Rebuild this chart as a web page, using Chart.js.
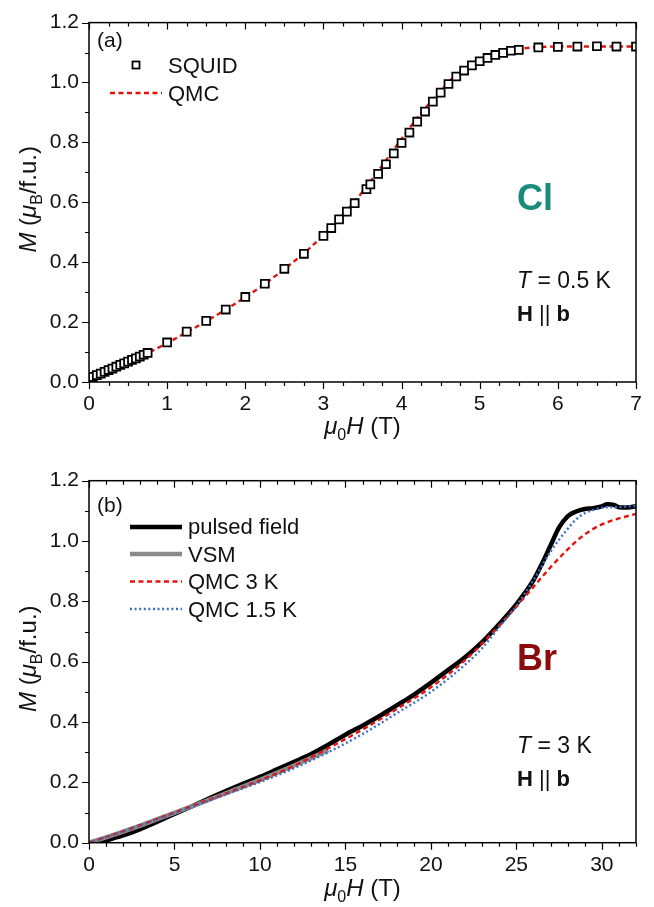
<!DOCTYPE html>
<html>
<head>
<meta charset="utf-8">
<script src="https://cdn.jsdelivr.net/npm/chart.js@4.4.1/dist/chart.umd.min.js"></script>
<style>
  body { margin: 0; background: #fff; }
  canvas { position: absolute; left: 0; }
  #chartA { top: 0; }
  #chartB { top: 450px; }
</style>
</head>
<body>
<canvas id="chartA" width="654" height="450"></canvas>
<canvas id="chartB" width="654" height="457"></canvas>
<script>
const FONT = "'Liberation Sans', Arial, Helvetica, sans-serif";

// ---- panel (a): Cl, T = 0.5 K ----
const squidField = [0.02, 0.05, 0.1, 0.15, 0.2, 0.25, 0.3, 0.35, 0.4, 0.45, 0.5, 0.55, 0.6, 0.65, 0.7, 0.75,
  1, 1.25, 1.5, 1.75, 2, 2.25, 2.5, 2.75, 3, 3.1, 3.2, 3.3, 3.4, 3.55, 3.6, 3.7, 3.8, 3.9,
  4, 4.1, 4.2, 4.3, 4.4, 4.5, 4.6, 4.7, 4.8, 4.9, 5, 5.1, 5.2, 5.3, 5.4, 5.5, 5.75, 6, 6.25, 6.5, 6.75, 7];
const squidM = [0.012, 0.017, 0.023, 0.028, 0.034, 0.040, 0.045, 0.051, 0.057, 0.062, 0.068, 0.074, 0.079, 0.085, 0.091, 0.097,
  0.132, 0.168, 0.204, 0.242, 0.284, 0.328, 0.378, 0.428, 0.488, 0.514, 0.543, 0.569, 0.597, 0.644, 0.660, 0.695, 0.727, 0.763,
  0.798, 0.833, 0.869, 0.903, 0.936, 0.966, 0.995, 1.020, 1.040, 1.057, 1.071, 1.082, 1.092, 1.099, 1.106, 1.109, 1.117, 1.119, 1.120, 1.121, 1.120, 1.120];

const qmcClField = [0, 0.25, 0.5, 0.75, 1, 1.25, 1.5, 1.75, 2, 2.25, 2.5, 2.75, 3, 3.25, 3.5, 3.75, 4, 4.25, 4.5, 4.75, 5, 5.25, 5.5, 5.75, 6, 6.5, 7];
const qmcClM = [0, 0.031, 0.063, 0.096, 0.130, 0.166, 0.203, 0.242, 0.283, 0.328, 0.377, 0.430, 0.490, 0.558, 0.635, 0.722, 0.812, 0.898, 0.972, 1.038, 1.078, 1.100, 1.112, 1.118, 1.120, 1.120, 1.120];

const xTicksA = [0, 1, 2, 3, 4, 5, 6, 7];
const yTicks = [0, 0.2, 0.4, 0.6, 0.8, 1.0, 1.2];

// ---- panel (b): Br, T = 3 K ----
const pulsedField = [0.5, 1, 2, 3, 4, 5, 6, 7, 8, 9, 10, 11, 12, 13, 14, 15, 16, 17, 18, 19, 20, 21, 22, 23, 24, 25,
  25.5, 26, 26.5, 27, 27.5, 28, 28.5, 29, 29.5, 30, 30.3, 30.7, 31, 31.5, 32];
const pulsedM = [0, 0.008, 0.024, 0.045, 0.070, 0.095, 0.120, 0.146, 0.171, 0.195, 0.218, 0.243, 0.268, 0.294, 0.325, 0.358, 0.388, 0.420, 0.455, 0.490, 0.530, 0.572, 0.615, 0.665, 0.725, 0.790,
  0.828, 0.870, 0.925, 0.985, 1.045, 1.082, 1.098, 1.106, 1.109, 1.115, 1.122, 1.120, 1.112, 1.111, 1.115];

const vsmField = [0, 1, 2, 3, 4, 5, 6, 7, 8, 9, 10, 11, 12, 13, 14];
const vsmM = [0, 0.018, 0.037, 0.057, 0.078, 0.099, 0.120, 0.142, 0.164, 0.186, 0.208, 0.232, 0.256, 0.281, 0.307];

const qmc3Field = [0, 2, 5, 8, 10, 12, 14, 16, 18, 20, 22, 24, 25, 26, 27, 28, 29, 30, 31, 32];
const qmc3M = [0, 0.038, 0.100, 0.163, 0.206, 0.255, 0.313, 0.375, 0.443, 0.515, 0.605, 0.720, 0.783, 0.848, 0.913, 0.972, 1.022, 1.055, 1.075, 1.090];

const qmc15Field = [0, 2, 5, 8, 10, 12, 14, 16, 18, 20, 22, 23, 24, 25, 26, 27, 28, 28.5, 29, 29.5, 30, 31, 32];
const qmc15M = [0, 0.038, 0.098, 0.160, 0.201, 0.247, 0.300, 0.360, 0.429, 0.500, 0.590, 0.645, 0.715, 0.785, 0.870, 0.965, 1.040, 1.072, 1.092, 1.103, 1.110, 1.113, 1.116];

const xTicksB = [0, 5, 10, 15, 20, 25, 30];

function pts(xs, ys) {
  return xs.map((x, i) => ({ x: x, y: ys[i] }));
}

function fontOf(style, size) {
  return style + " " + size + "px " + FONT;
}

// parts: [text, style, scale, dy]
function rich(ctx, parts, x, y, size, align) {
  let w = 0;
  parts.forEach(p => {
    ctx.font = fontOf(p[1], Math.round(size * (p[2] || 1)));
    w += ctx.measureText(p[0]).width;
  });
  let cx = align === "left" ? x : x - w / 2;
  ctx.textAlign = "left";
  ctx.textBaseline = "alphabetic";
  parts.forEach(p => {
    ctx.font = fontOf(p[1], Math.round(size * (p[2] || 1)));
    ctx.fillText(p[0], cx, y + (p[3] || 0));
    cx += ctx.measureText(p[0]).width;
  });
}

// box frame + major/minor ticks (left & bottom outward, top inward)
const frame = {
  id: "frame",
  afterDraw(chart, args, opts) {
    const ctx = chart.ctx, a = chart.chartArea;
    const xs = chart.scales.x, ys = chart.scales.y;
    ctx.save();
    ctx.strokeStyle = "#000";
    ctx.lineWidth = 1.5;
    ctx.strokeRect(a.left, a.top, a.right - a.left, a.bottom - a.top);
    ctx.lineWidth = 1.2;
    ctx.beginPath();
    const nx = Math.round((xs.max - xs.min) / opts.xMinor);
    for (let i = 0; i <= nx; i++) {
      const v = xs.min + i * opts.xMinor;
      const r = v / opts.xMajor;
      const len = Math.abs(r - Math.round(r)) < 1e-6 ? 7 : 4;
      const p = Math.round(xs.getPixelForValue(v)) + 0.5;
      ctx.moveTo(p, a.bottom); ctx.lineTo(p, a.bottom + len);
      ctx.moveTo(p, a.top); ctx.lineTo(p, a.top + len);
    }
    const ny = Math.round((ys.max - ys.min) / opts.yMinor);
    for (let i = 0; i <= ny; i++) {
      const v = ys.min + i * opts.yMinor;
      const r = v / opts.yMajor;
      const len = Math.abs(r - Math.round(r)) < 1e-6 ? 7 : 4;
      const p = Math.round(ys.getPixelForValue(v)) + 0.5;
      ctx.moveTo(a.left, p); ctx.lineTo(a.left - len, p);
    }
    ctx.stroke();
    ctx.restore();
  }
};

// axis titles, legend and labels
const decor = {
  id: "decor",
  afterDraw(chart, args, o) {
    const ctx = chart.ctx, a = chart.chartArea;
    ctx.save();
    ctx.fillStyle = "#111";
    // y title
    ctx.save();
    ctx.translate(36, (a.top + a.bottom) / 2 - 3);
    ctx.rotate(-Math.PI / 2);
    rich(ctx, [["M", "italic"], [" (", "normal"], ["\u03bc", "italic"], ["B", "normal", 0.65, 6], ["/f.u.)", "normal"]], 0, 0, 24);
    ctx.restore();
    // x title
    rich(ctx, [["\u03bc", "italic"], ["0", "normal", 0.65, 6], ["H", "italic"], [" (T)", "normal"]], (a.left + a.right) / 2, o.xTitleY, 24);

    // panel tag
    ctx.font = fontOf("normal", 21);
    ctx.fillText(o.tag, 97, o.tagY);

    // legend
    o.legend.forEach(l => {
      ctx.save();
      if (l.kind === "square") {
        ctx.strokeStyle = "#000"; ctx.lineWidth = 1.8; ctx.fillStyle = "#fff";
        ctx.fillRect(132.5, l.y - 3.5, 7, 7);
        ctx.strokeRect(132.5, l.y - 3.5, 7, 7);
      } else {
        ctx.strokeStyle = l.color; ctx.lineWidth = l.width; ctx.setLineDash(l.dash || []);
        ctx.beginPath(); ctx.moveTo(l.x0, l.y); ctx.lineTo(l.x1, l.y); ctx.stroke();
      }
      ctx.restore();
      ctx.font = fontOf("normal", 22);
      ctx.fillText(l.text, l.tx, l.ty);
    });

    // compound label
    ctx.fillStyle = o.nameColor;
    ctx.font = fontOf("bold", 36);
    ctx.fillText(o.name, 517, o.nameY);
    ctx.fillStyle = "#111";
    rich(ctx, [["T", "italic"], [" = " + o.temp, "normal"]], 517, o.tempY, 23, "left");
    rich(ctx, [["H", "bold"], [" || ", "normal"], ["b", "bold"]], 517, o.tempY + 33, 22, "left");
    ctx.restore();
  }
};

function axes(xmax, xTicks, xh, yw) {
  const tickFont = { family: FONT, size: 21 };
  return {
    x: {
      type: "linear", min: 0, max: xmax,
      afterBuildTicks: s => { s.ticks = xTicks.map(v => ({ value: v })); },
      afterFit: s => { s.height = xh; },
      grid: { display: false, drawTicks: false },
      border: { display: false },
      ticks: { font: tickFont, color: "#111", padding: 10, maxRotation: 0, autoSkip: false }
    },
    y: {
      type: "linear", min: 0, max: 1.2,
      afterBuildTicks: s => { s.ticks = yTicks.map(v => ({ value: v })); },
      afterFit: s => { s.width = yw; },
      grid: { display: false, drawTicks: false },
      border: { display: false },
      ticks: { font: tickFont, color: "#111", padding: 10, callback: v => v.toFixed(1) }
    }
  };
}

new Chart(document.getElementById("chartA"), {
  type: "scatter",
  data: {
    datasets: [
      {
        label: "SQUID", data: pts(squidField, squidM), order: 0,
        pointStyle: "rect", pointRadius: 5.6, borderWidth: 1.8,
        borderColor: "#000", backgroundColor: "#fff"
      },
      {
        label: "QMC", data: pts(qmcClField, qmcClM), order: 1, showLine: true,
        pointRadius: 0, borderColor: "#e1140f", borderWidth: 2.4, borderDash: [5, 3.5],
        cubicInterpolationMode: "monotone"
      }
    ]
  },
  options: {
    responsive: false, animation: false, events: [],
    layout: { padding: { top: 18, right: 18, left: 0, bottom: 0 } },
    scales: axes(7, xTicksA, 68, 89),
    plugins: {
      legend: { display: false }, tooltip: { enabled: false },
      frame: { xMinor: 0.25, xMajor: 1, yMinor: 0.1, yMajor: 0.2 },
      decor: {
        xTitleY: 434, tag: "(a)", tagY: 47,
        legend: [
          { kind: "square", y: 65, text: "SQUID", tx: 168, ty: 73 },
          { kind: "line", x0: 110, x1: 162, y: 93, color: "#e1140f", width: 2.4, dash: [5, 3.5], text: "QMC", tx: 168, ty: 101 }
        ],
        name: "Cl", nameColor: "#1a8a7b", nameY: 210, temp: "0.5 K", tempY: 288
      }
    }
  },
  plugins: [frame, decor]
});

new Chart(document.getElementById("chartB"), {
  type: "scatter",
  data: {
    datasets: [
      {
        label: "pulsed field", data: pts(pulsedField, pulsedM), order: 3, showLine: true,
        pointRadius: 0, borderColor: "#000", borderWidth: 4.5, cubicInterpolationMode: "monotone"
      },
      {
        label: "VSM", data: pts(vsmField, vsmM), order: 2, showLine: true,
        pointRadius: 0, borderColor: "#8a8a8a", borderWidth: 4.5, cubicInterpolationMode: "monotone"
      },
      {
        label: "QMC 3 K", data: pts(qmc3Field, qmc3M), order: 1, showLine: true,
        pointRadius: 0, borderColor: "#e1140f", borderWidth: 2.4, borderDash: [5, 3.5],
        cubicInterpolationMode: "monotone"
      },
      {
        label: "QMC 1.5 K", data: pts(qmc15Field, qmc15M), order: 0, showLine: true,
        pointRadius: 0, borderColor: "#3b6fc4", borderWidth: 2.4, borderDash: [2, 2.6],
        cubicInterpolationMode: "monotone"
      }
    ]
  },
  options: {
    responsive: false, animation: false, events: [],
    layout: { padding: { top: 30.7, right: 18, left: 0, bottom: 0 } },
    scales: axes(32, xTicksB, 64.3, 89),
    plugins: {
      legend: { display: false }, tooltip: { enabled: false },
      frame: { xMinor: 1, xMajor: 5, yMinor: 0.1, yMajor: 0.2 },
      decor: {
        xTitleY: 446, tag: "(b)", tagY: 62,
        legend: [
          { kind: "line", x0: 130, x1: 182, y: 77, color: "#000", width: 4.5, text: "pulsed field", tx: 188, ty: 84 },
          { kind: "line", x0: 130, x1: 182, y: 104, color: "#8a8a8a", width: 4.5, text: "VSM", tx: 188, ty: 112 },
          { kind: "line", x0: 130, x1: 182, y: 131.5, color: "#e1140f", width: 2.4, dash: [5, 3.5], text: "QMC 3 K", tx: 188, ty: 139 },
          { kind: "line", x0: 130, x1: 182, y: 159, color: "#3b6fc4", width: 2.4, dash: [2, 2.6], text: "QMC 1.5 K", tx: 188, ty: 167 }
        ],
        name: "Br", nameColor: "#8b0a0a", nameY: 220, temp: "3 K", tempY: 303
      }
    }
  },
  plugins: [frame, decor]
});
</script>
</body>
</html>
